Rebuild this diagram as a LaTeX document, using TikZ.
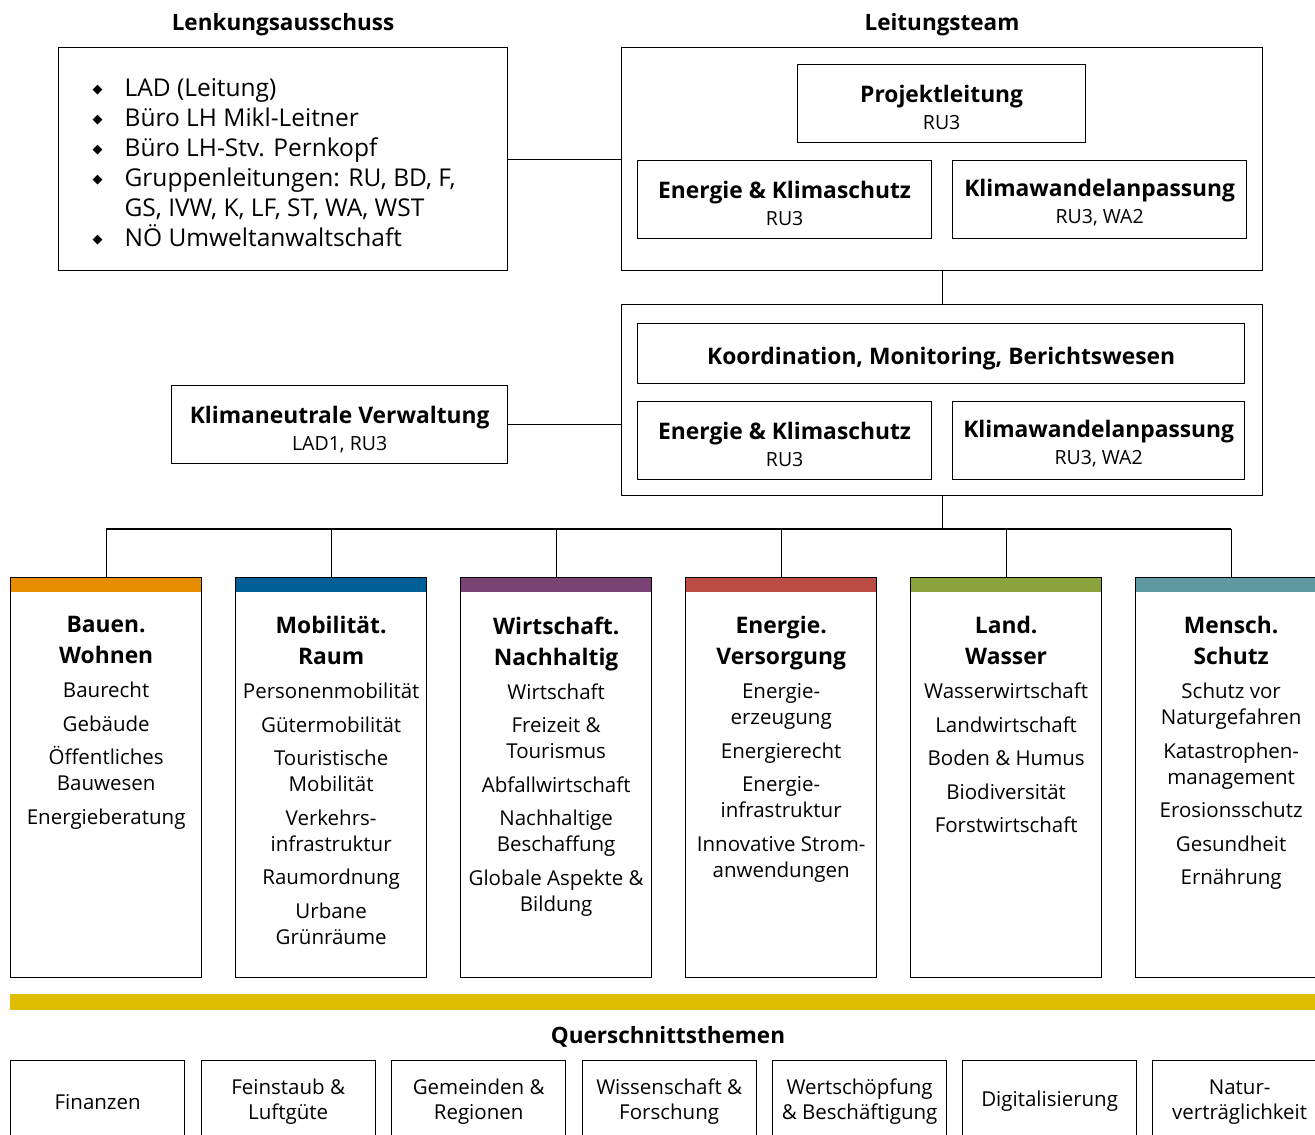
\documentclass[tikz,border=0pt]{standalone}
\usepackage{fontspec}
\setmainfont{Open Sans}
\newfontfamily\symfont{DejaVu Sans}
\usetikzlibrary{calc}

\definecolor{bauen}{HTML}{E88C00}
\definecolor{mobil}{HTML}{005F96}
\definecolor{wirtsch}{HTML}{7B4373}
\definecolor{energie}{HTML}{BD4B45}
\definecolor{land}{HTML}{8BA33D}
\definecolor{mensch}{HTML}{5E98A0}
\definecolor{quer}{HTML}{DFBD00}

\newcommand{\raute}{\makebox[32pt][l]{\raisebox{3pt}{\symfont\fontsize{13}{13}\selectfont ◆}}}
\newcommand{\kopf}[1]{{\bfseries\fontsize{22.8}{28}\selectfont #1}}

\tikzset{
  box/.style={draw, anchor=north west, inner sep=0pt, align=center,
    font=\fontsize{19.5}{27}\selectfont},
  col/.style={draw, anchor=north west, inner sep=0pt,
    minimum width=191pt, minimum height=400pt},
  coltext/.style={anchor=north, inner sep=0pt, align=center,
    font=\fontsize{20.5}{26}\selectfont},
  qbox/.style={draw, anchor=north west, inner sep=0pt, align=center,
    minimum width=174pt, minimum height=82pt,
    font=\fontsize{20.5}{25}\selectfont},
  titel/.style={inner sep=0pt, font=\bfseries\fontsize{22.5}{26}\selectfont}
}

\begin{document}
\begin{tikzpicture}[x=1pt, y=-1pt, line width=1.3pt]
  \clip (0,0) rectangle (1315,1135);

  % Ueberschriften
  \node[titel] (tlenk) at (283,24.5) {Lenkungsausschuss};
  \node[titel] (tleit) at (942,24.5) {Leitungsteam};

  % Lenkungsausschuss
  \node[box, minimum width=449pt, minimum height=223pt] (lenk) at (58,47) {};
  \node[anchor=north west, inner sep=0pt, align=left,
        font=\fontsize{24.5}{30}\selectfont] (liste) at (92,77.5)
    {\raute LAD (Leitung)\\
     \raute Büro LH Mikl-Leitner\\
     \raute Büro LH-Stv. Pernkopf\\
     \raute Gruppenleitungen: RU, BD, F,\\
     \hspace*{32pt}GS, IVW, K, LF, ST, WA, WST\\
     \raute NÖ Umweltanwaltschaft};

  % Leitungsteam
  \node[box, minimum width=641pt, minimum height=223pt] (leit) at (621,47) {};
  \node[box, minimum width=288pt, minimum height=78pt] (pl) at (797,64)
    {\kopf{\rule{0pt}{24pt}Projektleitung}\\RU3};
  \node[box, minimum width=294pt, minimum height=78pt] (ek1) at (637,160)
    {\kopf{\rule{0pt}{24pt}Energie \& Klimaschutz}\\RU3};
  \node[box, minimum width=294pt, minimum height=78pt] (ka1) at (952,160)
    {\kopf{\rule{0pt}{24pt}Klimawandelanpassung}\\RU3, WA2};

  % Koordination
  \node[box, minimum width=641pt, minimum height=191pt] (unten) at (621,304) {};
  \node[box, minimum width=607pt, minimum height=60pt] (koord) at (637,323)
    {\kopf{\rule{0pt}{28pt}Koordination, Monitoring, Berichtswesen}};
  \node[box, minimum width=294pt, minimum height=78pt] (ek2) at (637,401)
    {\kopf{\rule{0pt}{24pt}Energie \& Klimaschutz}\\RU3};
  \node[box, minimum width=292pt, minimum height=78pt] (ka2) at (952,401)
    {\kopf{\rule{0pt}{24pt}Klimawandelanpassung}\\RU3, WA2};

  \node[box, minimum width=336pt, minimum height=78pt] (kv) at (171,385)
    {\kopf{\rule{0pt}{27pt}Klimaneutrale Verwaltung}\\LAD1, RU3};

  \draw (lenk.east) -- (leit.west);
  \draw (leit.south) -- (unten.north);
  \draw (kv.east) -- (kv.east -| unten.west);
  \coordinate (bus) at ($(unten.south)+(0,34)$);
  \draw (unten.south) -- (bus);

  % Handlungsfelder
  \foreach \n/\x/\farbe in {1/10/bauen, 2/235/mobil, 3/460/wirtsch,
                           4/685/energie, 5/910/land, 6/1135/mensch} {
    \fill[\farbe] (\x,577) rectangle ++(191,15);
    \node[col] (c\n) at (\x,577) {};
    \draw (c\n.north) -- ++(0,-48);
  }
  \draw (c1.north) ++(0,-48) -- ($(c6.north)+(0,-48)$);

  \node[coltext] (t1) at ($(c1.north)+(0,39)$)
    {\kopf{Bauen.}\\[5pt]\kopf{Wohnen}\\[8pt]
     Baurecht\\[7.5pt]Gebäude\\[7.5pt]Öffentliches\\Bauwesen\\[7.5pt]Energieberatung};
  \node[coltext] (t2) at ($(c2.north)+(0,39)$)
    {\kopf{Mobilität.}\\[5pt]\kopf{Raum}\\[8pt]
     Personenmobilität\\[7.5pt]Gütermobilität\\[7.5pt]Touristische\\Mobilität\\[7.5pt]
     Verkehrs-\\infrastruktur\\[7.5pt]Raumordnung\\[7.5pt]Urbane\\Grünräume};
  \node[coltext] (t3) at ($(c3.north)+(0,39)$)
    {\kopf{Wirtschaft.}\\[5pt]\kopf{Nachhaltig}\\[8pt]
     Wirtschaft\\[7.5pt]Freizeit \&\\Tourismus\\[7.5pt]Abfallwirtschaft\\[7.5pt]
     Nachhaltige\\Beschaffung\\[7.5pt]Globale Aspekte \&\\Bildung};
  \node[coltext] (t4) at ($(c4.north)+(0,39)$)
    {\kopf{Energie.}\\[5pt]\kopf{Versorgung}\\[8pt]
     Energie-\\erzeugung\\[7.5pt]Energierecht\\[7.5pt]Energie-\\infrastruktur\\[7.5pt]
     Innovative Strom-\\anwendungen};
  \node[coltext] (t5) at ($(c5.north)+(0,39)$)
    {\kopf{Land.}\\[5pt]\kopf{Wasser}\\[8pt]
     Wasserwirtschaft\\[7.5pt]Landwirtschaft\\[7.5pt]Boden \& Humus\\[7.5pt]
     Biodiversität\\[7.5pt]Forstwirtschaft};
  \node[coltext] (t6) at ($(c6.north)+(0,39)$)
    {\kopf{Mensch.}\\[5pt]\kopf{Schutz}\\[8pt]
     Schutz vor\\Naturgefahren\\[7.5pt]Katastrophen-\\management\\[7.5pt]
     Erosionsschutz\\[7.5pt]Gesundheit\\[7.5pt]Ernährung};

  % Querschnittsthemen
  \fill[quer] (10,994) rectangle (1315,1010);
  \node[titel] (tquer) at (668,1036.5) {Querschnittsthemen};
  \node[qbox] (q1) at (10,1060) {Finanzen};
  \node[qbox] (q2) at (200.5,1060) {Feinstaub \&\\Luftgüte};
  \node[qbox] (q3) at (391,1060) {Gemeinden \&\\Regionen};
  \node[qbox] (q4) at (581.5,1060) {Wissenschaft \&\\Forschung};
  \node[qbox] (q5) at (772,1060) {Wertschöpfung\\\& Beschäftigung};
  \node[qbox] (q6) at (962,1060) {Digitalisierung};
  \node[qbox] (q7) at (1152,1060) {Natur-\\verträglichkeit};
\end{tikzpicture}
\end{document}
